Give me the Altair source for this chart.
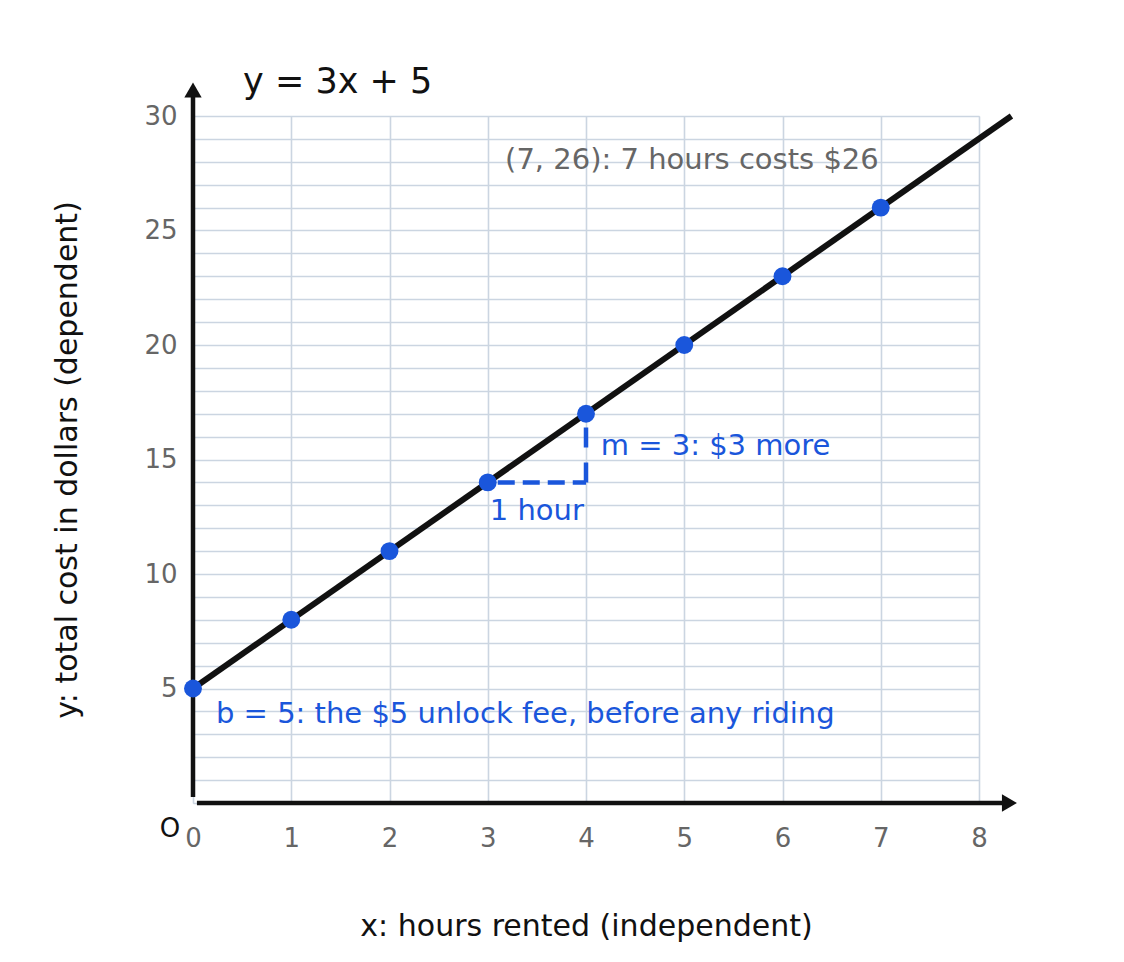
import altair as alt
import pandas as pd

# ---- data ----
hours = [0, 1, 2, 3, 4, 5, 6, 7]
cost = [5, 8, 11, 14, 17, 20, 23, 26]
line_x = [0, 8.33]
line_y = [5, 30]
x_ticks = [0, 1, 2, 3, 4, 5, 6, 7, 8]
y_ticks = list(range(0, 31))
run_x = [3, 4]
run_y = [14, 14]
rise_x = [4, 4]
rise_y = [14, 17]
xaxis_arrow = {"x": [0.04], "x2": [8.31], "y": [0]}
yaxis_arrow = {"x": [0], "y": [0.26], "y2": [31.13]}

texts = ["y = 3x + 5", "(7, 26): 7 hours costs $26", "m = 3: $3 more", "1 hour",
         "b = 5: the $5 unlock fee, before any riding", "O"]
text_x = [0.51, 6.98, 4.15, 3.02, 0.234, -0.234]
text_y = [31.0, 27.7, 15.2, 12.36, 3.49, -1.14]

BLUE = "#1a56db"
INK = "#111111"
GRAY = "#666666"
FONT = "DejaVu Sans"

xs = alt.Scale(domain=[0, 8], nice=False, zero=False)
ys = alt.Scale(domain=[0, 30], nice=False, zero=False)

pts = pd.DataFrame({"x": hours, "y": cost})
ln = pd.DataFrame({"x": line_x, "y": line_y})
run = pd.DataFrame({"x": run_x, "y": run_y})
rise = pd.DataFrame({"x": rise_x, "y": rise_y})
xa = pd.DataFrame(xaxis_arrow)
ya = pd.DataFrame(yaxis_arrow)

base_x = alt.X("x:Q", scale=xs, title="x: hours rented (independent)",
               axis=alt.Axis(values=x_ticks, tickCount=len(x_ticks), format="d",
                             grid=True, domain=False, ticks=False,
                             labelFontSize=26, labelColor=GRAY, labelPadding=22,
                             labelFont=FONT, titleFont=FONT, titleFontSize=30,
                             titleFontWeight="normal", titleColor=INK,
                             titleY=132, titleBaseline="alphabetic",
                             gridColor="#cbd5e1", gridWidth=1.6, gridOpacity=1,
                             labelFlush=False, labelOverlap=False))
base_y = alt.Y("y:Q", scale=ys, title="y: total cost in dollars (dependent)",
               axis=alt.Axis(values=y_ticks, tickCount=len(y_ticks), format="d",
                             grid=True, domain=False, ticks=False,
                             labelExpr="datum.value % 5 == 0 && datum.value > 0 ? datum.label : ''",
                             labelFontSize=26, labelColor=GRAY, labelPadding=16,
                             labelFont=FONT, titleFont=FONT, titleFontSize=30,
                             titleFontWeight="normal", titleColor=INK,
                             titleX=-117, titleBaseline="alphabetic",
                             gridColor="#cbd5e1", gridWidth=1.6, gridOpacity=1,
                             labelFlush=False, labelOverlap=False))

grid = alt.Chart(pts).mark_point(opacity=0).encode(x=base_x, y=base_y)

xaxis_line = alt.Chart(xa).mark_rule(color=INK, strokeWidth=4.5).encode(
    x=alt.X("x:Q", scale=xs), x2="x2:Q", y=alt.Y("y:Q", scale=ys))
xaxis_head = alt.Chart(xa).mark_point(shape="triangle-right", filled=True, color=INK,
                                     size=300, opacity=1).encode(
    x=alt.X("x2:Q", scale=xs), y=alt.Y("y:Q", scale=ys))
yaxis_line = alt.Chart(ya).mark_rule(color=INK, strokeWidth=4.5).encode(
    x=alt.X("x:Q", scale=xs), y=alt.Y("y:Q", scale=ys), y2="y2:Q")
yaxis_head = alt.Chart(ya).mark_point(shape="triangle-up", filled=True, color=INK,
                                     size=300, opacity=1).encode(
    x=alt.X("x:Q", scale=xs), y=alt.Y("y2:Q", scale=ys))

line = alt.Chart(ln).mark_line(color=INK, strokeWidth=6, clip=False).encode(
    x=alt.X("x:Q", scale=xs), y=alt.Y("y:Q", scale=ys))

run_dash = alt.Chart(run).mark_line(color=BLUE, strokeWidth=4.5, strokeDash=[17, 8],
                                    strokeDashOffset=15).encode(
    x=alt.X("x:Q", scale=xs), y=alt.Y("y:Q", scale=ys))
rise_dash = alt.Chart(rise).mark_line(color=BLUE, strokeWidth=4.5, strokeDash=[20, 15]).encode(
    x=alt.X("x:Q", scale=xs), y=alt.Y("y:Q", scale=ys), order="y:Q")

dots = alt.Chart(pts).mark_circle(color=BLUE, size=320, opacity=1).encode(
    x=alt.X("x:Q", scale=xs), y=alt.Y("y:Q", scale=ys))

def label(i, color, size, align="left", baseline="alphabetic"):
    df = pd.DataFrame({"x": [text_x[i]], "y": [text_y[i]], "t": [texts[i]]})
    return alt.Chart(df).mark_text(align=align, baseline=baseline, fontSize=size,
                                   font=FONT, color=color).encode(
        x=alt.X("x:Q", scale=xs), y=alt.Y("y:Q", scale=ys), text="t:N")

labels = [
    label(0, INK, 35),
    label(1, GRAY, 29, align="right"),
    label(2, BLUE, 29),
    label(3, BLUE, 29),
    label(4, BLUE, 29),
    label(5, INK, 26, align="center", baseline="middle"),
]

chart = alt.layer(grid, xaxis_line, xaxis_head, yaxis_line, yaxis_head, line,
                  run_dash, rise_dash, dots, *labels).properties(
    width=786, height=687,
    padding={"left": 185, "top": 108, "right": 130, "bottom": 150},
    autosize=alt.AutoSizeParams(type="none"),
).configure_view(stroke=None).configure(background="white")

chart.save("out.html", embed_options={"renderer": "svg", "actions": False})
